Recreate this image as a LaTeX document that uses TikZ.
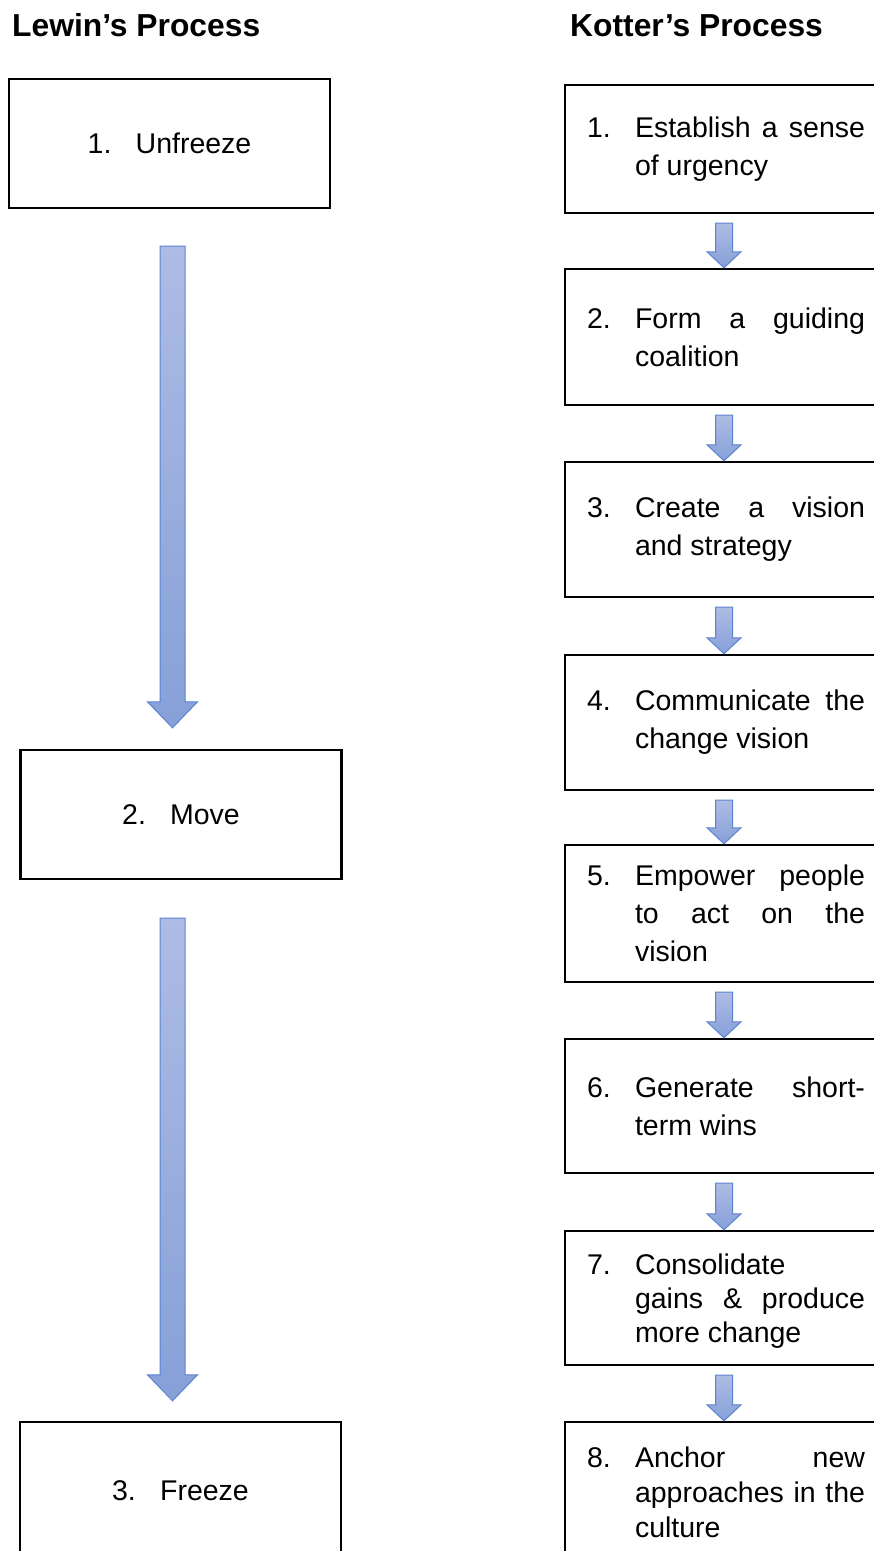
\documentclass[tikz,border=0pt]{standalone}
\usepackage{fontspec}
\setmainfont{Liberation Sans}
\usetikzlibrary{positioning}
\usetikzlibrary{calc}
\definecolor{arrowtop}{HTML}{AEBCE4}
\definecolor{arrowbot}{HTML}{86A0D8}
\definecolor{arrowline}{HTML}{5A84D0}
\tikzset{
    heading/.style = {anchor=base west, inner sep=0pt, font=\fontsize{31.8}{36}\selectfont\bfseries},
    lbox/.style = {rectangle, line width=2.4pt, draw=black, minimum width=321pt, minimum height=129pt, inner sep=0pt, font=\fontsize{28.5}{38}\selectfont},
    kbox/.style = {rectangle, line width=2.4pt, draw=black, minimum width=325pt, inner sep=0pt},
    ktext/.style = {text width=230pt, align=justify, inner sep=0pt, font=\fontsize{28.5}{38}\selectfont},
    knum/.style = {anchor=base west, inner sep=0pt, font=\fontsize{28.5}{38}\selectfont},
    fatarrow/.style = {draw=arrowline, line width=1pt, top color=arrowtop, bottom color=arrowbot}
}
% block arrow: start, tip, half shaft, half head, head length
\newcommand{\fatarrow}[5]{%
  \path[fatarrow] let \p1=#1, \p2=#2 in
    (\x1-#3,\y1) -- (\x1+#3,\y1) -- (\x1+#3,\y2+#5) -- (\x1+#4,\y2+#5)
    -- (\x1,\y2) -- (\x1-#4,\y2+#5) -- (\x1-#3,\y2+#5) -- cycle;}

\begin{document}
\begin{tikzpicture}[x=1pt,y=-1pt]
\clip (0,0) rectangle (874,1551);

\node[heading] (lt) at (12,36) {Lewin’s Process};
\node[heading] (kt) at (570,36) {Kotter’s Process};

% Lewin
\node[lbox] at (169.5,143.5) (l1) {\makebox[48pt][l]{1.}Unfreeze};
\node[lbox] at (181,814.5) (l2) {\makebox[48pt][l]{2.}Move};
\node[lbox,minimum height=138pt] at (180.5,1491) (l3) {\makebox[48pt][l]{3.}Freeze};

\fatarrow{($(l1.south)+(3,37)$)}{($(l2.north)+(0,-21)$)}{12.5pt}{25pt}{26pt}
\fatarrow{($(l2.south)+(-8.5,38)$)}{($(l3.north)+(0,-20)$)}{12.5pt}{25pt}{26pt}

% Kotter
\node[kbox,minimum height=128pt] at (727.5,149) (k1) {};
\node[kbox,minimum height=136pt] at (727.5,337) (k2) {};
\node[kbox,minimum height=135pt] at (727.5,529.5) (k3) {};
\node[kbox,minimum height=135pt] at (727.5,722.5) (k4) {};
\node[kbox,minimum height=137pt] at (727.5,913.5) (k5) {};
\node[kbox,minimum height=134pt] at (727.5,1106) (k6) {};
\node[kbox,minimum height=134pt] at (727.5,1298) (k7) {};
\node[kbox,minimum height=140pt] at (727.5,1492) (k8) {};

\node[ktext,right=71pt of k1.west] (t1) {Establish a sense\linebreak of urgency};
\node[ktext,right=71pt of k2.west] (t2) {Form a guiding\linebreak coalition};
\node[ktext,right=71pt of k3.west] (t3) {Create a vision\linebreak and strategy};
\node[ktext,right=71pt of k4.west] (t4) {Communicate the\linebreak change vision};
\node[ktext,right=71pt of k5.west] (t5) {Empower people\linebreak to act on the\linebreak vision};
\node[ktext,right=71pt of k6.west] (t6) {Generate short-\linebreak term wins};
\node[ktext,right=71pt of k7.west,yshift=-3pt,font=\fontsize{28.5}{34}\selectfont] (t7) {Consolidate\newline gains \& produce\linebreak more change};
\node[ktext,right=71pt of k8.west,font=\fontsize{28.5}{35}\selectfont] (t8) {Anchor new\linebreak approaches in the\linebreak culture};

\node[knum] at ([xshift=-48pt]t1.base west) (n1) {1.};
\node[knum] at ([xshift=-48pt]t2.base west) (n2) {2.};
\node[knum] at ([xshift=-48pt]t3.base west) (n3) {3.};
\node[knum] at ([xshift=-48pt]t4.base west) (n4) {4.};
\node[knum] at ([xshift=-48pt]t5.base west) (n5) {5.};
\node[knum] at ([xshift=-48pt]t6.base west) (n6) {6.};
\node[knum] at ([xshift=-48pt]t7.base west) (n7) {7.};
\node[knum] at ([xshift=-48pt]t8.base west) (n8) {8.};

\foreach \a/\b in {k1/k2,k2/k3,k3/k4,k4/k5,k5/k6,k6/k7,k7/k8}{
  \fatarrow{($(\a.south)+(-3.5,9)$)}{(\b.north)}{8.5pt}{17pt}{16pt}
}
\end{tikzpicture}
\end{document}
